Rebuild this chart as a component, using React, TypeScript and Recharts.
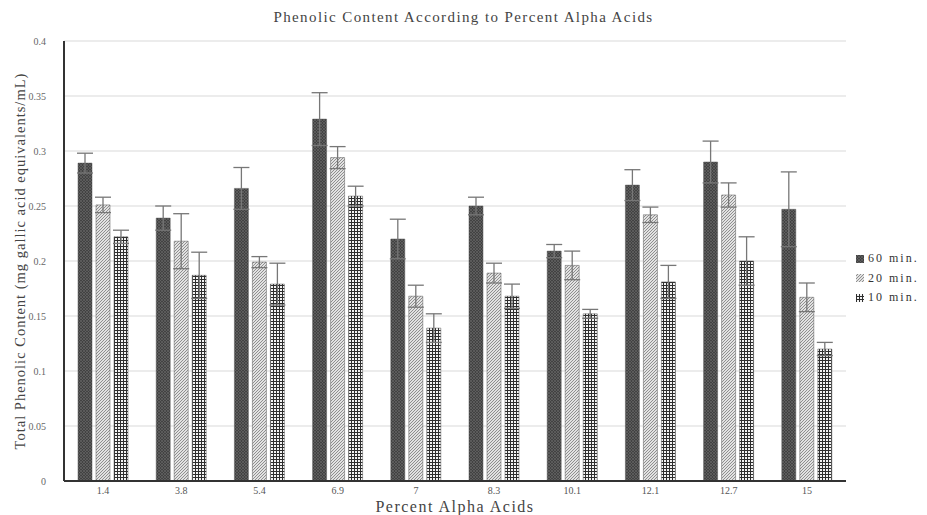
import React from "react";
import { BarChart, Bar, XAxis, YAxis, CartesianGrid, ErrorBar } from "recharts";

const categories = ["1.4", "3.8", "5.4", "6.9", "7", "8.3", "10.1", "12.1", "12.7", "15"];
const min60 = [0.289, 0.239, 0.266, 0.329, 0.22, 0.25, 0.209, 0.269, 0.29, 0.247];
const err60 = [0.009, 0.011, 0.019, 0.024, 0.018, 0.008, 0.006, 0.014, 0.019, 0.034];
const min20 = [0.251, 0.218, 0.199, 0.294, 0.168, 0.189, 0.196, 0.242, 0.26, 0.167];
const err20 = [0.007, 0.025, 0.005, 0.01, 0.01, 0.009, 0.013, 0.007, 0.011, 0.013];
const min10 = [0.222, 0.187, 0.179, 0.259, 0.139, 0.168, 0.152, 0.181, 0.2, 0.12];
const err10 = [0.006, 0.021, 0.019, 0.009, 0.013, 0.011, 0.004, 0.015, 0.022, 0.006];
const yTicks = [0, 0.05, 0.1, 0.15, 0.2, 0.25, 0.3, 0.35, 0.4];

const series = [
  { key: "m60", err: "e60", name: "60 min.", fill: "url(#p60)" },
  { key: "m20", err: "e20", name: "20 min.", fill: "url(#p20)" },
  { key: "m10", err: "e10", name: "10 min.", fill: "url(#p10)" },
];

const data = categories.map((c, i) => ({
  cat: c,
  m60: min60[i], e60: err60[i],
  m20: min20[i], e20: err20[i],
  m10: min10[i], e10: err10[i],
}));

const serif = "'Liberation Serif', 'DejaVu Serif', serif";

function Patterns() {
  return (
    <defs>
      <pattern id="p60" width="3" height="3" patternUnits="userSpaceOnUse">
        <rect width="3" height="3" fill="#424242" />
        <path d="M0,0 L3,3 M3,0 L0,3" stroke="#6a6a6a" strokeWidth="0.6" />
      </pattern>
      <pattern id="p20" width="3" height="3" patternUnits="userSpaceOnUse">
        <rect width="3" height="3" fill="#e2e2e2" />
        <path d="M-1,1 L1,-1 M0,3 L3,0 M2,4 L4,2" stroke="#7a7a7a" strokeWidth="0.8" />
      </pattern>
      <pattern id="p10" width="3" height="3" patternUnits="userSpaceOnUse">
        <rect width="3" height="3" fill="#f4f4f4" />
        <path d="M0,0.5 L3,0.5 M0.5,0 L0.5,3" stroke="#2e2e2e" strokeWidth="1" />
      </pattern>
    </defs>
  );
}

function XLabel(props: any) {
  const vb = props.viewBox;
  return (
    <text x={vb.x + vb.width / 2} y={512} textAnchor="middle" fill="#444"
      fontSize={16} fontFamily={serif} letterSpacing={1.5}>
      Percent Alpha Acids
    </text>
  );
}

function YLabel(props: any) {
  const vb = props.viewBox;
  const cx = vb.x - 4;
  const cy = vb.y + vb.height / 2;
  return (
    <text x={cx} y={cy} transform={`rotate(-90 ${cx} ${cy})`} textAnchor="middle" dominantBaseline="central"
      fill="#444" fontSize={14.5} fontFamily={serif} letterSpacing={1}>
      Total Phenolic Content (mg gallic acid equivalents/mL)
    </text>
  );
}

export default function App() {
  return (
    <div style={{ position: "absolute", left: 0, top: 0, width: 927, height: 515, background: "#fff" }}>
      <div style={{ position: "absolute", top: 9, left: 0, width: 927, textAlign: "center", fontFamily: serif, fontSize: 15, letterSpacing: 1.4, color: "#444" }}>
        Phenolic Content According to Percent Alpha Acids
      </div>
      <BarChart width={927} height={515} data={data} barSize={14} barGap={4}
        margin={{ top: 41, right: 81, bottom: 20, left: 24 }}>
        <Patterns />
        <CartesianGrid vertical={false} stroke="#d9d9d9" />
        <XAxis dataKey="cat" height={14} tickLine={false} stroke="#333" strokeWidth={2}
          tick={{ fill: "#555", fontSize: 10, fontFamily: serif }} tickMargin={0}
          label={<XLabel />} />
        <YAxis domain={[0, 0.4]} ticks={yTicks} width={40} tickLine={false} tickSize={0} tickMargin={18}
          stroke="#333" strokeWidth={2} tick={{ fill: "#666", fontSize: 10, fontFamily: serif }}
          label={<YLabel />} />
        {series.map(s => (
          <Bar key={s.key} dataKey={s.key} name={s.name} fill={s.fill} stroke="#555" strokeWidth={0.5} isAnimationActive={false}>
            <ErrorBar dataKey={s.err} width={8} stroke="#777" strokeWidth={1.3} />
          </Bar>
        ))}
      </BarChart>
      <div style={{ position: "absolute", left: 856, top: 249, fontFamily: serif, fontSize: 12, letterSpacing: 2, color: "#333" }}>
        {series.map(s => (
          <div key={s.key} style={{ display: "flex", alignItems: "center", height: 19.5 }}>
            <svg width="11" height="10" style={{ marginRight: 1 }}>
              <rect width="8" height="8" y="1" fill={s.fill} />
            </svg>
            {s.name}
          </div>
        ))}
      </div>
    </div>
  );
}
